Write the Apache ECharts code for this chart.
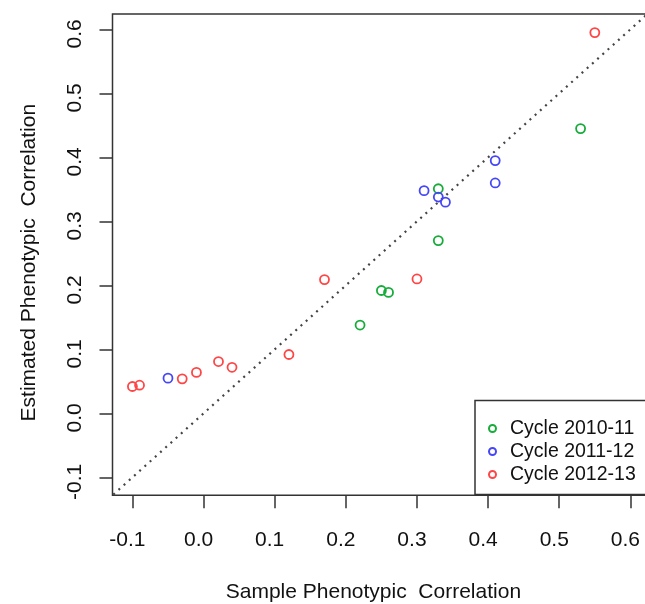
<!DOCTYPE html>
<html>
<head>
<meta charset="utf-8">
<script src="https://cdn.jsdelivr.net/npm/echarts@6/dist/echarts.min.js"></script>
<style>
html,body{margin:0;padding:0;background:#fff;}
#chart{width:645px;height:604px;}
</style>
</head>
<body>
<div id="chart"></div>
<script>
// ---- data (sample correlation, estimated correlation) ----
var seriesNames = ['Cycle 2010-11', 'Cycle 2011-12', 'Cycle 2012-13'];
var cycle2010x = [0.53, 0.33, 0.33, 0.25, 0.26, 0.22];
var cycle2010y = [0.445, 0.351, 0.270, 0.192, 0.189, 0.138];
var cycle2011x = [0.41, 0.41, 0.31, 0.33, 0.34, -0.05];
var cycle2011y = [0.395, 0.360, 0.348, 0.338, 0.330, 0.055];
var cycle2012x = [0.55, 0.17, 0.30, 0.12, 0.021, 0.04, -0.01, -0.03, -0.09, -0.10];
var cycle2012y = [0.595, 0.209, 0.210, 0.092, 0.081, 0.072, 0.064, 0.054, 0.044, 0.042];
var identityLine = [-0.2, 0.7];
var tickValues = [-0.1, 0, 0.1, 0.2, 0.3, 0.4, 0.5, 0.6];
var xTitle = 'Sample Phenotypic  Correlation';
var yTitle = 'Estimated Phenotypic  Correlation';

var colors = ['#17ac3a', '#4646f8', '#ff4646'];
var FONT = 'Liberation Sans, Arial, sans-serif';

function pairs(xs, ys) { return xs.map(function (v, i) { return [v, ys[i]]; }); }
var allData = [pairs(cycle2010x, cycle2010y), pairs(cycle2011x, cycle2011y), pairs(cycle2012x, cycle2012y)];

function axisCommon() {
  return {
    type: 'value',
    splitLine: { show: false },
    axisLine: { show: false, onZero: false },
    axisTick: { show: true, inside: false, length: 13, customValues: tickValues, lineStyle: { color: '#333', width: 1.5 } },
    axisLabel: {
      customValues: tickValues,
      color: '#111', fontFamily: FONT, fontSize: 21,
      padding: [0, 10, 0, 0],
      formatter: function (v) { return v.toFixed(1); }
    },
    nameLocation: 'middle',
    nameTextStyle: { color: '#111', fontFamily: FONT, fontSize: 21 }
  };
}

var xAxis = axisCommon();
xAxis.min = -0.128; xAxis.max = 0.628;
xAxis.axisLabel.margin = 34;
xAxis.name = xTitle;
xAxis.nameGap = 86;
xAxis.nameTextStyle.padding = [0, 16, 0, 0];

var yAxis = axisCommon();
yAxis.min = -0.128; yAxis.max = 0.624;
yAxis.axisLabel.rotate = 90;
yAxis.axisLabel.margin = 27;
yAxis.axisLabel.padding = [0, 9, 0, 0];
yAxis.name = yTitle;
yAxis.nameGap = 73;
yAxis.nameRotate = 90;
yAxis.nameTextStyle.padding = [0, 16, 0, 0];

var series = [{
  type: 'line',
  data: identityLine.map(function (v) { return [v, v]; }),
  showSymbol: false, silent: true, clip: true,
  lineStyle: { color: '#444', width: 2.2, type: [2, 5] },
  z: 1
}];
seriesNames.forEach(function (name, i) {
  series.push({
    type: 'scatter', name: name, data: allData[i],
    symbol: 'circle', symbolSize: 9,
    itemStyle: { color: 'rgba(255,255,255,0)', borderColor: colors[i], borderWidth: 1.8, opacity: 1 },
    z: 3
  });
});

var chart = echarts.init(document.getElementById('chart'), null, { renderer: 'canvas' });
chart.setOption({
  animation: false,
  backgroundColor: '#fff',
  grid: { left: 112.5, top: 14, width: 537.8, height: 481.3, containLabel: false, outerBoundsMode: 'none', show: true, borderColor: '#333', borderWidth: 1.5, backgroundColor: 'transparent' },
  xAxis: xAxis,
  yAxis: yAxis,
  legend: {
    data: seriesNames,
    orient: 'vertical',
    left: 475, top: 400.5,
    padding: [18, 20, 10, 13],
    itemGap: 3,
    itemWidth: 7, itemHeight: 7,
    icon: 'circle',
    borderColor: '#333', borderWidth: 1.5, backgroundColor: '#fff',
    textStyle: { color: '#111', fontFamily: FONT, fontSize: 19.5, lineHeight: 20, padding: [0, 0, 0, 9] }
  },
  series: series
});
</script>
</body>
</html>
